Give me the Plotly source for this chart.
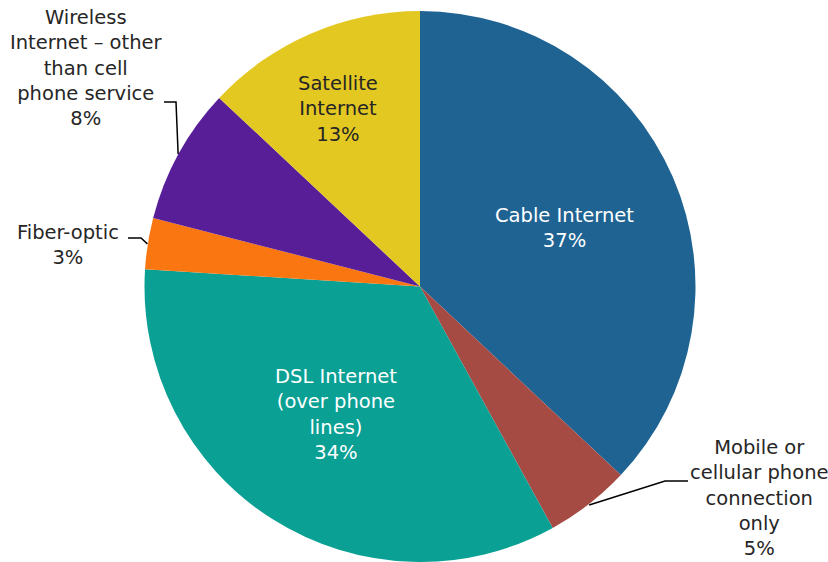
import math
import plotly.graph_objects as go

categories = ["Cable Internet", "Mobile or cellular phone connection only", "DSL Internet (over phone lines)",
              "Fiber-optic", "Wireless Internet – other than cell phone service", "Satellite Internet"]
values = [37, 5, 34, 3, 8, 13]
label_text = ["Cable Internet<br>37%", "Mobile or<br>cellular phone<br>connection<br>only<br>5%",
              "DSL Internet<br>(over phone<br>lines)<br>34%", "Fiber-optic<br>3%",
              "Wireless<br>Internet – other<br>than cell<br>phone service<br>8%", "Satellite<br>Internet<br>13%"]
colors = ["#1F6392", "#A64A44", "#0AA094", "#F97611", "#581E98", "#E4C822"]

W, H = 828, 562
CX, CY, R = 420, 287, 276
FONT = "DejaVu Sans"

fig = go.Figure(go.Pie(
    labels=categories, values=values, sort=False, direction="clockwise", rotation=0,
    marker=dict(colors=colors, line=dict(width=0)), textinfo="none", hoverinfo="label+percent",
    domain=dict(x=[(CX - R) / W, (CX + R) / W], y=[max(0, 1 - (CY + R) / H), 1 - (CY - R) / H]),
    showlegend=False,
))

def px(x, y):
    return x / W, 1 - y / H

# label placement (pixel centres) and text colours
label_pos = [(564, 228), (759, 498), (336, 414), (68, 245), (86, 68), (338, 109)]
label_col = ["white", "#262626", "white", "#262626", "#262626", "#262626"]

total = sum(values)
cum = 0
mids = []
for v in values:
    mids.append((cum + v / 2) / total * 360)
    cum += v

annos = []
for t, (x, y), c in zip(label_text, label_pos, label_col):
    xp, yp = px(x, y)
    annos.append(dict(text=t, x=xp, y=yp, xref="paper", yref="paper", showarrow=False,
                      align="center", xanchor="center", yanchor="middle",
                      font=dict(family=FONT, size=19.5, color=c)))

# leader lines from slice edge (mid angle) to outside labels
def edge(i):
    a = math.radians(mids[i])
    return CX + R * math.sin(a), CY - R * math.cos(a)

shapes = []
leader_ends = {1: [(665, 481), (688, 481)], 3: [(141, 238), (128, 238)], 4: [(176, 102), (164, 102)]}
for i, pts in leader_ends.items():
    ex, ey = edge(i)
    seq = [(ex, ey)] + pts
    path = ""
    for k, (x, y) in enumerate(seq):
        xp, yp = px(x, y)
        path += ("M" if k == 0 else "L") + f"{xp},{yp} "
    shapes.append(dict(type="path", path=path.strip(), xref="paper", yref="paper",
                       line=dict(color="black", width=1.5)))

fig.update_layout(width=W, height=H, margin=dict(l=0, r=0, t=0, b=0),
                  paper_bgcolor="white", plot_bgcolor="white",
                  annotations=annos, shapes=shapes)
fig.write_html("out.html", config={"displayModeBar": False},
               post_script="document.body.style.margin='0';")
